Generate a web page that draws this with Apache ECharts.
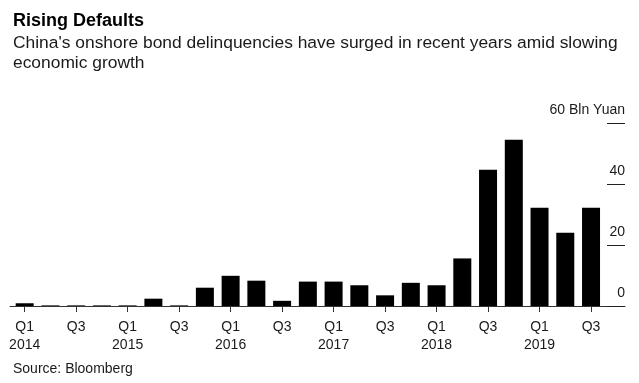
<!DOCTYPE html>
<html>
<head>
<meta charset="utf-8">
<script src="https://cdn.jsdelivr.net/npm/echarts@6/dist/echarts.min.js"></script>
<style>
html,body{margin:0;padding:0;background:#fff;}
#chart{width:639px;height:383px;}
</style>
</head>
<body>
<div id="chart"></div>
<script>
// Quarterly categories, Q1 2014 .. Q3 2019
const categories = [
  'Q1 2014','Q2 2014','Q3 2014','Q4 2014',
  'Q1 2015','Q2 2015','Q3 2015','Q4 2015',
  'Q1 2016','Q2 2016','Q3 2016','Q4 2016',
  'Q1 2017','Q2 2017','Q3 2017','Q4 2017',
  'Q1 2018','Q2 2018','Q3 2018','Q4 2018',
  'Q1 2019','Q2 2019','Q3 2019'
];
// Onshore bond defaults, Bln Yuan
const defaults = [
  0.9, 0.2, 0.2, 0.2,
  0.2, 2.4, 0.2, 6.0,
  9.9, 8.3, 1.7, 8.0,
  8.0, 6.8, 3.5, 7.6,
  6.8, 15.6, 44.7, 54.5,
  32.2, 24.0, 32.2
];
const yTicks = [0, 20, 40, 60];
const yUnit = 'Bln Yuan';

const titleText = 'Rising Defaults';
const subtitleText = "China's onshore bond delinquencies have surged in recent years amid slowing\neconomic growth";
const sourceText = 'Source: Bloomberg';

const FONT = '"Liberation Sans", Arial, Helvetica, sans-serif';
const TXT = '#1a1a1a';

const chart = echarts.init(document.getElementById('chart'), null, {renderer: 'canvas'});
chart.setOption({
  animation: false,
  backgroundColor: '#ffffff',
  title: [
    {text: titleText, left: 8, top: 5,
     textStyle: {fontFamily: FONT, fontSize: 18, fontWeight: 'bold', color: '#000', lineHeight: 22}},
    {text: subtitleText, left: 8, top: 28,
     textStyle: {fontFamily: FONT, fontSize: 17.4, fontWeight: 'normal', color: TXT, lineHeight: 20}},
    {text: sourceText, left: 8, top: 356,
     textStyle: {fontFamily: FONT, fontSize: 14, fontWeight: 'normal', color: TXT, lineHeight: 16}}
  ],
  grid: [
    {left: 11.8, right: 35.1, top: 123, bottom: 77, containLabel: false},
    {left: 10, right: 14, top: 123, bottom: 77, containLabel: false}
  ],
  xAxis: [
    {
      type: 'category', gridIndex: 0, data: categories,
      axisLine: {show: false},
      axisTick: {show: true, interval: 1, alignWithLabel: true, length: 6,
                 lineStyle: {color: '#333', width: 1}},
      axisLabel: {
        interval: 1, margin: 12, fontFamily: FONT, fontSize: 14, lineHeight: 18, color: TXT,
        formatter: function (v) {
          const p = v.split(' ');
          return p[0] === 'Q1' ? p[0] + '\n' + p[1] : p[0];
        }
      },
      splitLine: {show: false}
    },
    {
      type: 'value', gridIndex: 1, min: 0, max: 1,
      axisLine: {show: true, lineStyle: {color: '#333', width: 1}},
      axisTick: {show: false}, axisLabel: {show: false}, splitLine: {show: false}
    }
  ],
  yAxis: [
    {type: 'value', gridIndex: 0, min: 0, max: 60, interval: 20, show: false},
    {
      type: 'value', gridIndex: 1, position: 'left', offset: -615,
      min: yTicks[0], max: yTicks[yTicks.length - 1], interval: 20,
      axisLine: {show: false},
      axisTick: {show: true, inside: false, length: 18, lineStyle: {color: '#222', width: 1}},
      axisLabel: {
        inside: false, margin: 0, align: 'right', verticalAlign: 'bottom', padding: [0, 0, 6, 0],
        fontFamily: FONT, fontSize: 14, color: TXT,
        formatter: function (v) { return v === yTicks[yTicks.length - 1] ? v + ' ' + yUnit : String(v); }
      },
      splitLine: {show: false}
    }
  ],
  series: [
    {
      type: 'bar', xAxisIndex: 0, yAxisIndex: 0, data: defaults,
      barWidth: 18,
      itemStyle: {color: '#000'},
      silent: true
    }
  ]
});
</script>
</body>
</html>
